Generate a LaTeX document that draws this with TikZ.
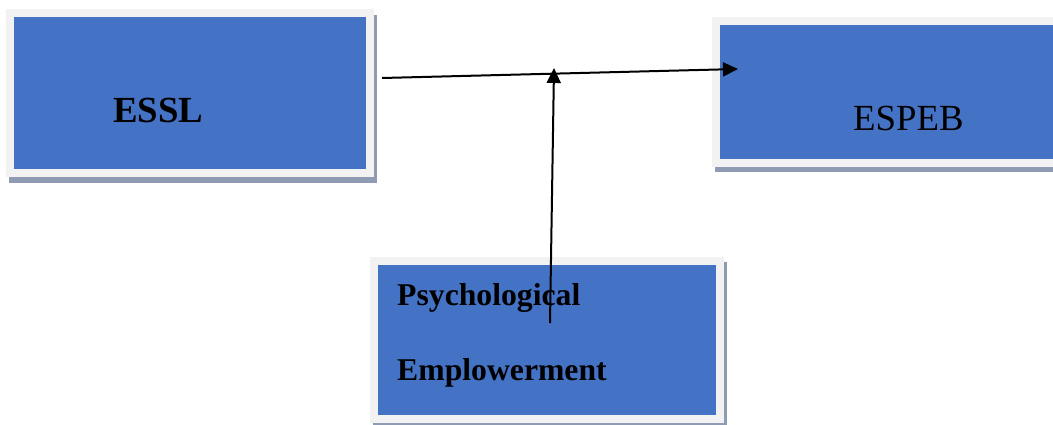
\documentclass[tikz,border=0pt]{standalone}
\usepackage{fontspec}
\setmainfont{Liberation Serif}
\usetikzlibrary{arrows.meta,backgrounds}
\definecolor{boxblue}{HTML}{4472C4}
\definecolor{boxrim}{HTML}{F2F2F2}
\definecolor{shadowc}{HTML}{8E9BB2}
\begin{document}
\begin{tikzpicture}[x=1pt,y=-1pt,
  box/.style={draw=boxrim,line width=8pt,fill=boxblue,rectangle,inner sep=0pt},
  shade/.style={fill=shadowc},
  bigtxt/.style={inner sep=0pt,anchor=base west,font=\fontsize{36.8}{40}\selectfont},
  midtxt/.style={inner sep=0pt,anchor=base west,font=\bfseries\fontsize{31.7}{36}\selectfont},
  conn/.style={line width=2pt,-{Triangle[length=15pt,width=14pt]}}]
\useasboundingbox (0,0) rectangle (1053,424);
\clip (0,0) rectangle (1053,424);
% boxes
\node[box,minimum width=360pt,minimum height=160pt] (essl) at (190,93) {};
\node[box,minimum width=384pt,minimum height=142pt] (espeb) at (908,92) {};
\node[box,minimum width=346pt,minimum height=158pt] (psy) at (547,340) {};
\begin{scope}[on background layer]
  \fill[shade] ([shift={(3,6)}]essl.north west) rectangle ([shift={(3,6)}]essl.south east);
  \fill[shade] ([shift={(3,5)}]espeb.north west) rectangle ([shift={(3,5)}]espeb.south east);
  \fill[shade] ([shift={(3,5)}]psy.north west) rectangle ([shift={(3,5)}]psy.south east);
\end{scope}
% texts
\node[bigtxt,font=\bfseries\fontsize{36.8}{40}\selectfont] (esslt) at (113,122) {ESSL};
\node[bigtxt] (espebt) at (853,130) {ESPEB};
\node[midtxt] (psyt1) at (397,305) {Psychological};
\node[midtxt] (psyt2) at (397,380) {Emplowerment};
% connectors
\coordinate (hstart) at (382,78);
\coordinate (htip) at (738,69);
\coordinate (vstart) at (550,323);
\coordinate (vtip) at (554,68);
\draw[conn] (hstart) -- (htip);
\draw[conn] (vstart) -- (vtip);
\end{tikzpicture}
\end{document}
